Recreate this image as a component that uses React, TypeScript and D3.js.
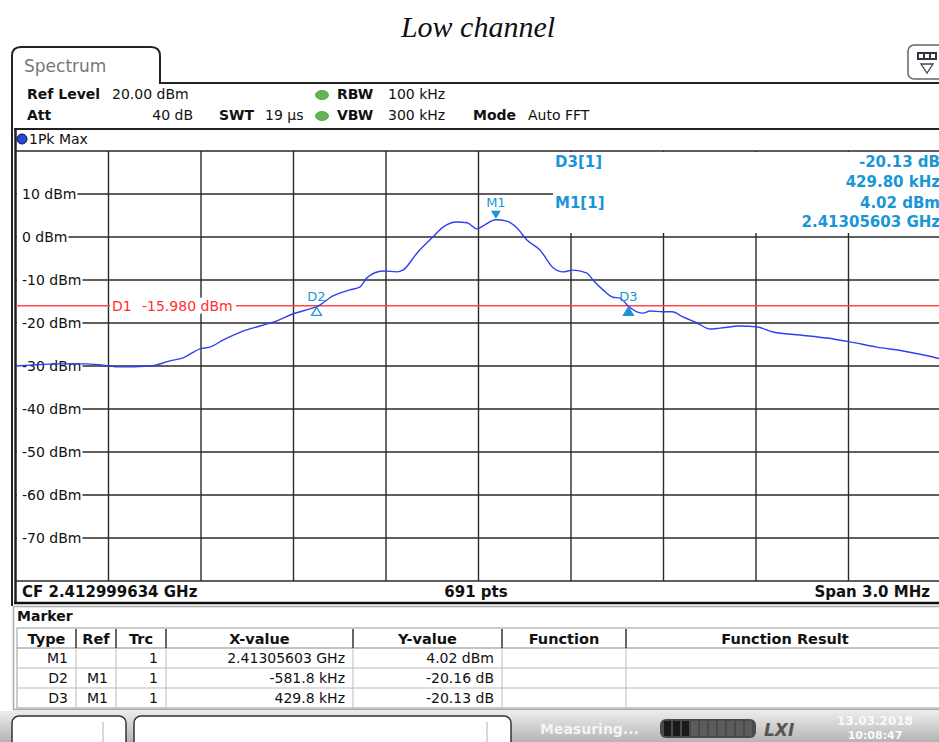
import { useEffect, useRef } from 'react'
import * as d3 from 'd3'

const W = 939, H = 742
const PL = 16, PR = 941, PT = 151, PB = 581
const FONT = 'DejaVu Sans, Verdana, sans-serif'
const SERIF = 'Liberation Serif, Times New Roman, serif'
const MK = '#1a96d6'

// trace 1 (Pk Max), offset from CF in kHz / level in dBm
const FREQ_KHZ = [-1500, -1455, -1357, -1271, -1195, -1172, -1065, -1000, -958, -903, -871, -829, -764, -709, -654, -602, -546, -524, -472, -417, -384, -362, -310, -264, -245, -199, -148, -115, -70, -37, -5, 15, 56, 92, 125, 157, 199, 243, 274, 306, 352, 371, 404, 436, 459, 486, 514, 534, 556, 598, 628, 663, 709, 751, 783, 848, 903, 955, 1043, 1130, 1205, 1292, 1377, 1474, 1500]
const LEVEL_DBM = [-30.0, -29.8, -29.5, -29.5, -30.0, -30.2, -30.0, -28.8, -28.1, -26.0, -25.6, -24.0, -21.9, -20.7, -19.5, -17.9, -16.7, -16.2, -13.7, -12.3, -11.6, -9.5, -7.9, -8.1, -7.7, -3.7, 0.0, 2.3, 3.5, 3.3, 1.9, 2.6, 4.0, 3.7, 2.1, -0.7, -3.0, -7.2, -8.1, -7.7, -8.4, -10.0, -12.3, -14.0, -14.2, -16.1, -17.4, -17.7, -17.2, -17.4, -17.4, -18.6, -20.0, -21.4, -21.2, -20.7, -20.9, -22.1, -22.8, -23.5, -24.4, -25.6, -26.5, -27.9, -28.4]

const Y_TICKS = [10, 0, -10, -20, -30, -40, -50, -60, -70]
const X_DIVS = [-1200, -900, -600, -300, 0, 300, 600, 900, 1200]
const D1_LEVEL = -15.98

const MARKER_NAMES = ['M1', 'D2', 'D3']
const MARKER_KHZ = [56.4, -525.4, 486.2]
const MARKER_DBM = [4.02, -16.14, -16.11]

const TABLE_HEAD = ['Type', 'Ref', 'Trc', 'X-value', 'Y-value', 'Function', 'Function Result']
const TABLE_TYPE = ['M1', 'D2', 'D3']
const TABLE_REF = ['', 'M1', 'M1']
const TABLE_TRC = ['1', '1', '1']
const TABLE_X = ['2.41305603 GHz', '-581.8 kHz', '429.8 kHz']
const TABLE_Y = ['4.02 dBm', '-20.16 dB', '-20.13 dB']

export default function App() {
  const svgRef = useRef<SVGSVGElement>(null)

  useEffect(() => {
    const svg = d3.select(svgRef.current!)
    svg.selectAll('*').remove()

    const x = d3.scaleLinear().domain([-1500, 1500]).range([PL, PR])
    const y = d3.scaleLinear().domain([-80, 20]).range([PB, PT])

    const txt = (px: number, py: number, s: string, opts: { size?: number, bold?: boolean, fill?: string, anchor?: string } = {}) =>
      svg.append('text').attr('x', px).attr('y', py)
        .attr('font-family', FONT).attr('font-size', opts.size ?? 14)
        .attr('font-weight', opts.bold ? 'bold' : 'normal')
        .attr('fill', opts.fill ?? '#111').attr('text-anchor', opts.anchor ?? 'start')
        .text(s)

    const defs = svg.append('defs')
    const grad = defs.append('linearGradient').attr('id', 'sbar').attr('x1', 0).attr('y1', 0).attr('x2', 0).attr('y2', 1)
    grad.append('stop').attr('offset', '0%').attr('stop-color', '#ececec')
    grad.append('stop').attr('offset', '100%').attr('stop-color', '#b4b4b4')
    defs.append('clipPath').attr('id', 'plotclip')
      .append('rect').attr('x', PL).attr('y', PT).attr('width', PR - PL).attr('height', PB - PT)

    svg.append('rect').attr('width', W).attr('height', H).attr('fill', '#fff')

    // ── title ─────────────────────────────────────────────────────────────
    svg.append('text').attr('x', 478).attr('y', 37).attr('text-anchor', 'middle')
      .attr('font-family', SERIF).attr('font-style', 'italic').attr('font-size', 30)
      .attr('fill', '#111').text('Low channel')

    // ── tab + header ──────────────────────────────────────────────────────
    svg.append('path')
      .attr('d', `M12,606 L12,56 Q12,47 21,47 L151,47 Q160,47 160,56 L160,83 L${W + 5},83`)
      .attr('fill', 'none').attr('stroke', '#222').attr('stroke-width', 2)
    txt(24, 72, 'Spectrum', { size: 17, fill: '#777' })

    svg.append('rect').attr('x', 908).attr('y', 45).attr('width', 40).attr('height', 34).attr('rx', 6)
      .attr('fill', '#fff').attr('stroke', '#666').attr('stroke-width', 1.5)
    svg.append('rect').attr('x', 917).attr('y', 52).attr('width', 20).attr('height', 8).attr('fill', '#334')
    ;[919, 925, 931].forEach(sx =>
      svg.append('rect').attr('x', sx).attr('y', 54).attr('width', 4).attr('height', 4).attr('fill', '#fff'))
    svg.append('path').attr('d', 'M921,64 L933,64 L927,73 Z').attr('fill', 'none').attr('stroke', '#445').attr('stroke-width', 1.3)

    txt(27, 99, 'Ref Level', { bold: true })
    txt(112, 99, '20.00 dBm')
    txt(27, 120, 'Att', { bold: true })
    txt(193, 120, '40 dB', { anchor: 'end' })
    txt(219, 120, 'SWT', { bold: true })
    txt(265, 120, '19 µs')
    ;[95, 116].forEach(cy =>
      svg.append('ellipse').attr('cx', 322).attr('cy', cy).attr('rx', 6.5).attr('ry', 4.5)
        .attr('fill', '#62b552').attr('stroke', '#4a9a3c').attr('stroke-width', 0.8))
    txt(337, 99, 'RBW', { bold: true })
    txt(388, 99, '100 kHz')
    txt(337, 120, 'VBW', { bold: true })
    txt(388, 120, '300 kHz')
    txt(473, 120, 'Mode', { bold: true })
    txt(528, 120, 'Auto FFT')

    // ── trace panel frame ─────────────────────────────────────────────────
    svg.append('line').attr('x1', 14).attr('x2', W + 5).attr('y1', 129).attr('y2', 129)
      .attr('stroke', '#222').attr('stroke-width', 2)
    svg.append('line').attr('x1', 15.5).attr('x2', 15.5).attr('y1', 128).attr('y2', 604)
      .attr('stroke', '#222').attr('stroke-width', 2.5)
    svg.append('circle').attr('cx', 22).attr('cy', 139).attr('r', 5)
      .attr('fill', '#2748e0').attr('stroke', '#112').attr('stroke-width', 1)
    txt(29, 144, '1Pk Max')

    // ── grid ──────────────────────────────────────────────────────────────
    const grid = svg.append('g').attr('stroke', '#2a2a2a').attr('stroke-width', 1.4)
    d3.range(-80, 21, 10).forEach(v =>
      grid.append('line').attr('x1', PL).attr('x2', PR).attr('y1', y(v)).attr('y2', y(v)))
    X_DIVS.forEach(f =>
      grid.append('line').attr('x1', x(f)).attr('x2', x(f)).attr('y1', PT).attr('y2', PB))

    // y labels with white backing
    Y_TICKS.forEach(v => {
      const t = txt(22, y(v) + 5, `${v} dBm`)
      const w = (t.node() as SVGTextElement).getComputedTextLength()
      svg.insert('rect', () => t.node())
        .attr('x', PL + 1).attr('y', y(v) - 3).attr('width', 22 + w - PL).attr('height', 6).attr('fill', '#fff')
    })

    // marker info box
    svg.append('rect').attr('x', 553).attr('y', PT + 1).attr('width', 400).attr('height', y(0) - PT - 5).attr('fill', '#fff')
    txt(555, 167, 'D3[1]', { bold: true, size: 15, fill: MK })
    txt(940, 167, '-20.13 dB', { bold: true, size: 15, fill: MK, anchor: 'end' })
    txt(940, 187, '429.80 kHz', { bold: true, size: 15, fill: MK, anchor: 'end' })
    txt(555, 208, 'M1[1]', { bold: true, size: 15, fill: MK })
    txt(940, 208, '4.02 dBm', { bold: true, size: 15, fill: MK, anchor: 'end' })
    txt(940, 227, '2.41305603 GHz', { bold: true, size: 15, fill: MK, anchor: 'end' })

    // ── D1 display line ───────────────────────────────────────────────────
    svg.append('line').attr('x1', PL).attr('x2', PR).attr('y1', y(D1_LEVEL)).attr('y2', y(D1_LEVEL))
      .attr('stroke', '#ff4848').attr('stroke-width', 1.5)
    svg.append('rect').attr('x', 110).attr('y', y(D1_LEVEL) - 8).attr('width', 126).attr('height', 16).attr('fill', '#fff')
    txt(112, y(D1_LEVEL) + 5, 'D1', { fill: '#ff3030' })
    txt(142, y(D1_LEVEL) + 5, '-15.980 dBm', { fill: '#ff3030' })

    // ── trace ─────────────────────────────────────────────────────────────
    const pts = FREQ_KHZ.map((f, i) => [f, LEVEL_DBM[i]] as [number, number])
    svg.append('path').attr('clip-path', 'url(#plotclip)')
      .attr('d', d3.line<[number, number]>().x(d => x(d[0])).y(d => y(d[1])).curve(d3.curveMonotoneX)(pts))
      .attr('fill', 'none').attr('stroke', '#3040ee').attr('stroke-width', 1.4)

    // ── markers ───────────────────────────────────────────────────────────
    MARKER_NAMES.forEach((name, i) => {
      const mx = x(MARKER_KHZ[i]), my = y(MARKER_DBM[i])
      if (name === 'M1') {
        svg.append('path').attr('d', `M${mx - 5},${my - 9} L${mx + 5},${my - 9} L${mx},${my - 1} Z`).attr('fill', MK)
        txt(mx, my - 13, name, { size: 13, fill: MK, anchor: 'middle' })
      } else {
        const hollow = name === 'D2'
        svg.append('path').attr('d', `M${mx},${my + 1} L${mx + 5},${my + 9} L${mx - 5},${my + 9} Z`)
          .attr('fill', hollow ? '#fff' : MK).attr('stroke', MK).attr('stroke-width', 1.3)
        txt(mx, my - 5, name, { size: 13, fill: MK, anchor: 'middle' })
      }
    })

    // ── footer ────────────────────────────────────────────────────────────
    txt(22, 597, 'CF 2.412999634 GHz', { bold: true, size: 15 })
    txt(476, 597, '691 pts', { bold: true, size: 15, anchor: 'middle' })
    txt(930, 597, 'Span 3.0 MHz', { bold: true, size: 15, anchor: 'end' })
    svg.append('line').attr('x1', 14).attr('x2', W + 5).attr('y1', 603).attr('y2', 603)
      .attr('stroke', '#111').attr('stroke-width', 2.5)

    // ── marker table ──────────────────────────────────────────────────────
    svg.append('rect').attr('x', 13.5).attr('y', 606.5).attr('width', W).attr('height', 103)
      .attr('fill', '#fff').attr('stroke', '#aaa').attr('stroke-width', 1.5)
    txt(17, 621, 'Marker', { bold: true })

    const COLS = [17, 76, 116, 166, 353, 502, 626, W + 5]
    const ROW_Y = [628, 648, 668, 688, 708]
    svg.append('rect').attr('x', COLS[0]).attr('y', ROW_Y[0]).attr('width', W - COLS[0] + 5).attr('height', ROW_Y[4] - ROW_Y[0])
      .attr('fill', '#fff').attr('stroke', '#999').attr('stroke-width', 1)
    ROW_Y.slice(1, 4).forEach(ry =>
      svg.append('line').attr('x1', COLS[0]).attr('x2', W + 5).attr('y1', ry).attr('y2', ry)
        .attr('stroke', ry === ROW_Y[1] ? '#888' : '#bbb').attr('stroke-width', 1))
    COLS.slice(1, -1).forEach(cx => {
      svg.append('line').attr('x1', cx).attr('x2', cx).attr('y1', ROW_Y[0] + 1).attr('y2', ROW_Y[1])
        .attr('stroke', '#333').attr('stroke-width', 1.5)
      svg.append('line').attr('x1', cx).attr('x2', cx).attr('y1', ROW_Y[1]).attr('y2', ROW_Y[4])
        .attr('stroke', '#bbb').attr('stroke-width', 1)
    })
    TABLE_HEAD.forEach((h, i) => txt((COLS[i] + COLS[i + 1]) / 2, 644, h, { bold: true, size: 14.5, anchor: 'middle' }))
    const body = [TABLE_TYPE, TABLE_REF, TABLE_TRC, TABLE_X, TABLE_Y]
    body.forEach((col, ci) =>
      col.forEach((v, ri) => {
        if (v) txt(COLS[ci + 1] - 8, ROW_Y[ri + 1] + 15, v, { anchor: 'end' })
      }))

    // ── status bar ────────────────────────────────────────────────────────
    svg.append('rect').attr('x', 0).attr('y', 711).attr('width', W).attr('height', 31).attr('fill', 'url(#sbar)')
    ;[[12, 126, 103], [134, 511, 487]].forEach(([x0, x1, sep]) => {
      svg.append('rect').attr('x', x0).attr('y', 716).attr('width', x1 - x0).attr('height', 40).attr('rx', 7)
        .attr('fill', '#fff').attr('stroke', '#333').attr('stroke-width', 1.5)
      svg.append('line').attr('x1', sep).attr('x2', sep).attr('y1', 722).attr('y2', 742)
        .attr('stroke', '#ccc').attr('stroke-width', 1.5)
    })
    txt(540, 734, 'Measuring...', { bold: true, fill: '#f4f4f4' })
    svg.append('rect').attr('x', 660).attr('y', 719).attr('width', 96).attr('height', 19).attr('rx', 6).attr('fill', '#4a4a4a')
    d3.range(10).forEach(i =>
      svg.append('rect').attr('x', 664 + i * 9).attr('y', 721).attr('width', 7).attr('height', 15)
        .attr('fill', i < 3 ? '#1a1a1a' : '#5c5c5c'))
    svg.append('text').attr('x', 764).attr('y', 736).attr('font-family', FONT).attr('font-size', 17)
      .attr('font-weight', 'bold').attr('font-style', 'italic').attr('fill', '#555').text('LXI')
    txt(875, 725, '13.03.2018', { bold: true, size: 12, fill: '#fafafa', anchor: 'middle' })
    txt(875, 739, '10:08:47', { bold: true, size: 11, fill: '#fafafa', anchor: 'middle' })
  }, [])

  return (
    <svg
      ref={svgRef}
      width={W}
      height={H}
      viewBox={`0 0 ${W} ${H}`}
      style={{ position: 'absolute', left: 0, top: 0, display: 'block' }}
    />
  )
}
